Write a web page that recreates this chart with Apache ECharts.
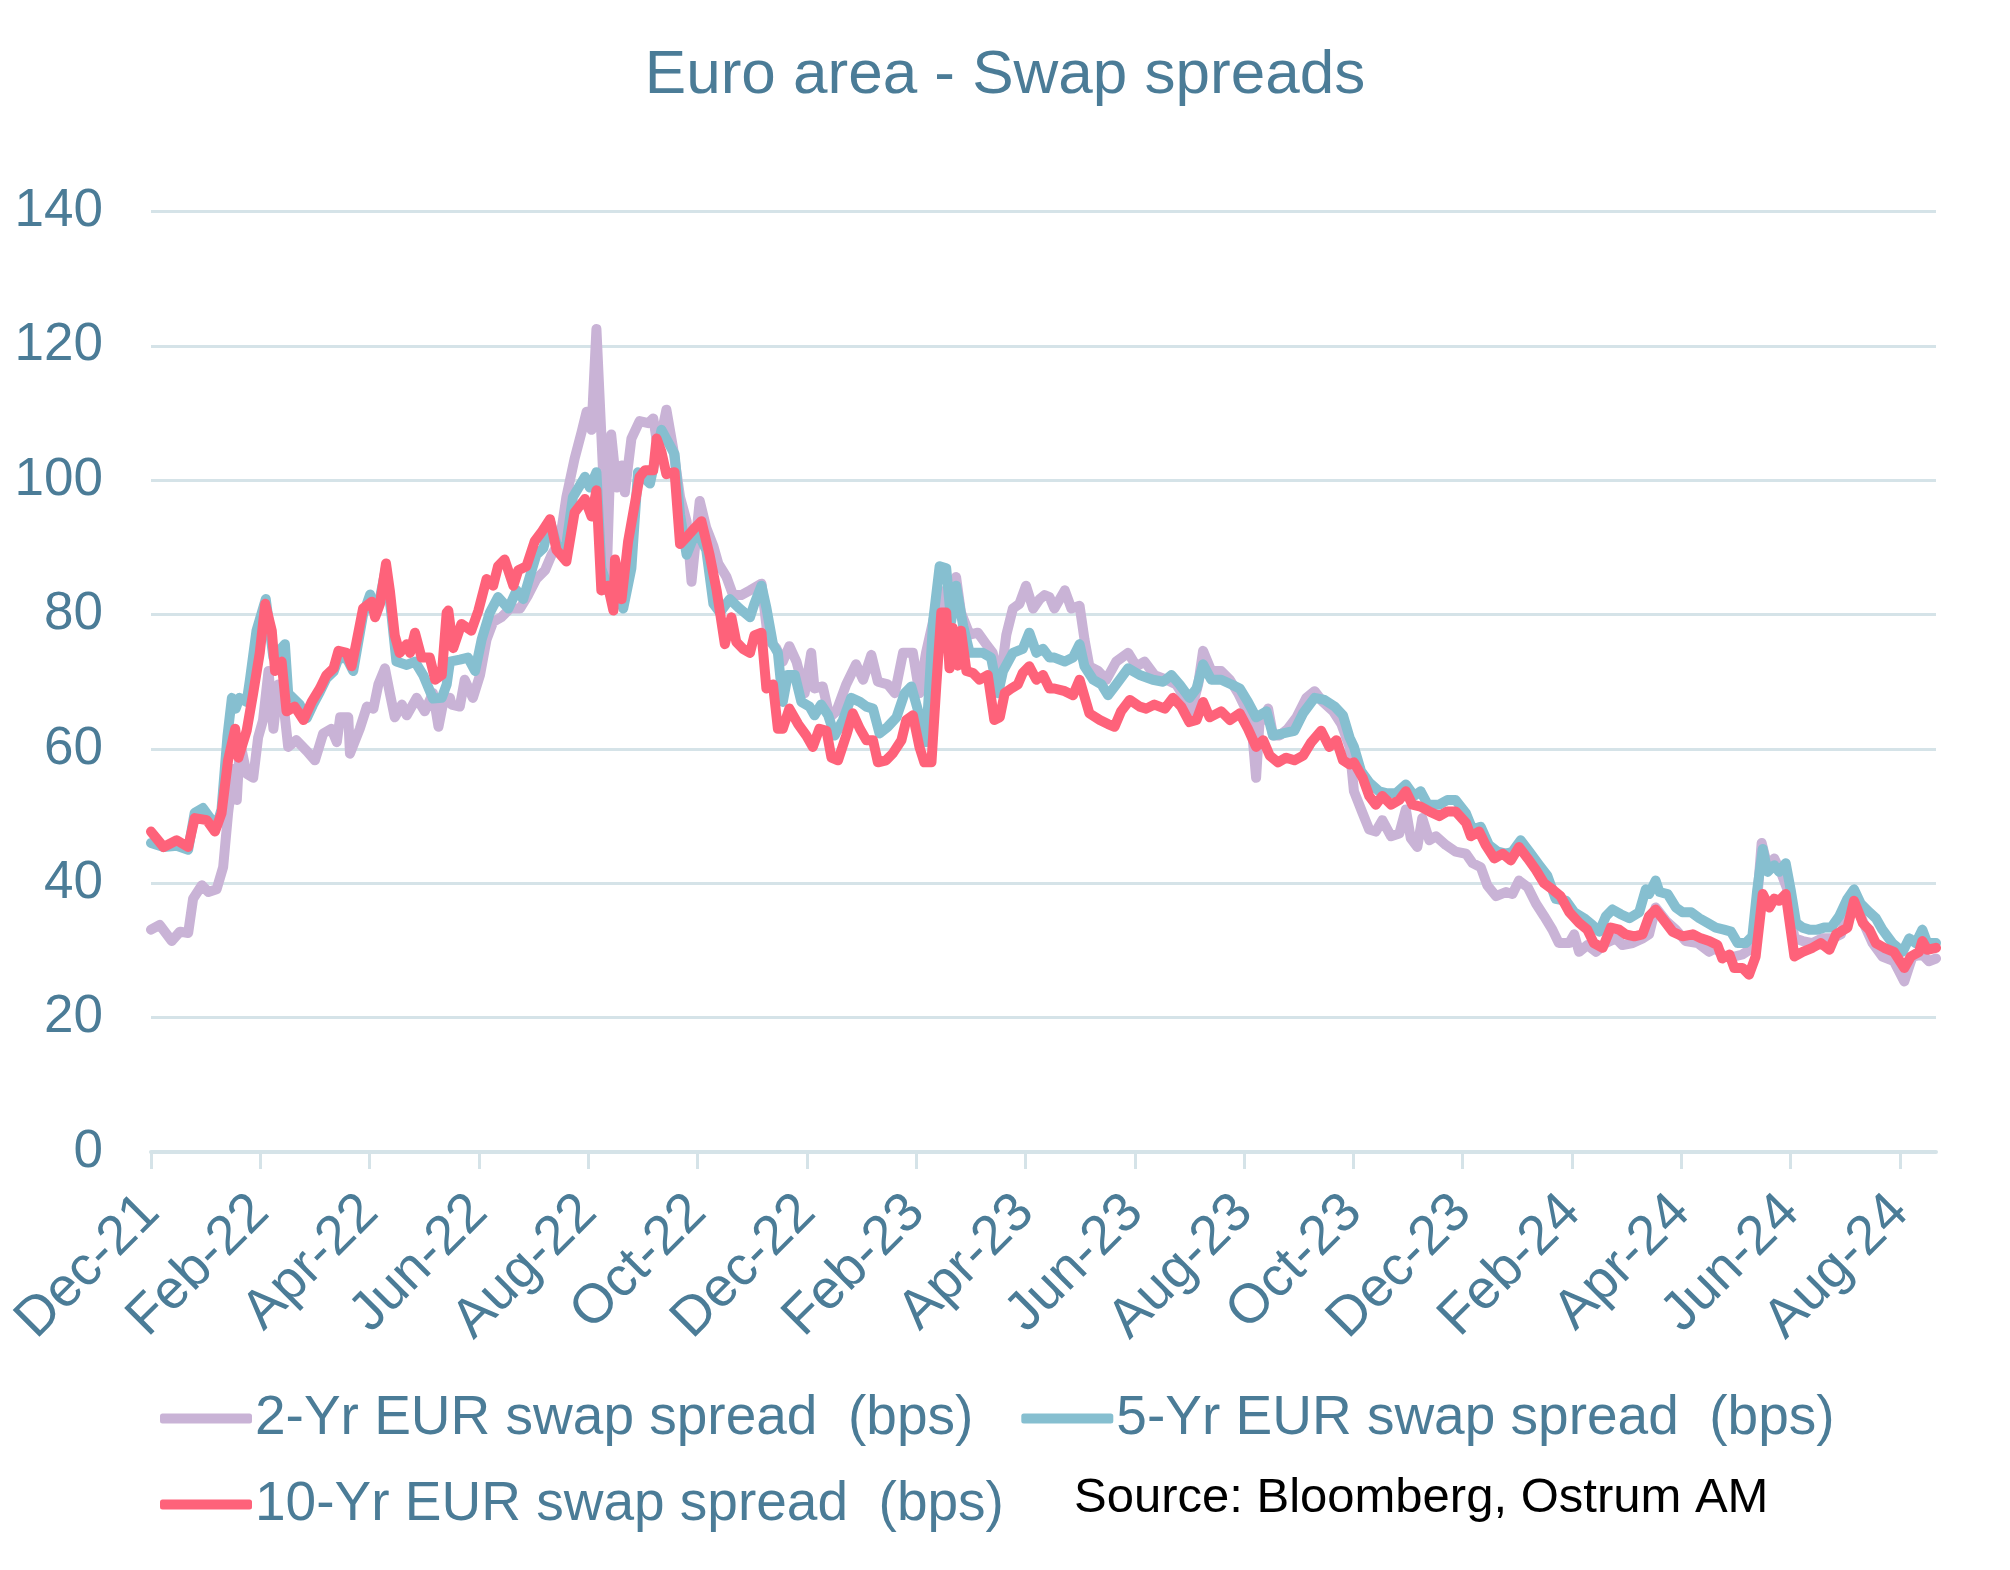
<!DOCTYPE html>
<html>
<head>
<meta charset="utf-8">
<script src="https://cdn.jsdelivr.net/npm/echarts@6/dist/echarts.min.js"></script>
<style>
html,body{margin:0;padding:0;background:#fff;}
#chart{width:2010px;height:1570px;}
</style>
</head>
<body>
<div id="chart"></div>
<script>
// x = months since Dec-21, y = spread in bps
const tickLabels = ['Dec-21','Feb-22','Apr-22','Jun-22','Aug-22','Oct-22','Dec-22','Feb-23','Apr-23','Jun-23','Aug-23','Oct-23','Dec-23','Feb-24','Apr-24','Jun-24','Aug-24'];
const seriesNames = ['2-Yr EUR swap spread  (bps)','5-Yr EUR swap spread  (bps)','10-Yr EUR swap spread  (bps)'];

const swap2y = [
[0,33.1],[0.16,33.8],[0.38,31.4],[0.53,32.8],[0.68,32.6],[0.77,37.7],[0.93,39.7],[1.05,38.7],[1.2,39.1],[1.32,42.4],[1.41,50.4],[1.51,57],[1.57,52.4],[1.63,61],[1.75,56.3],[1.87,55.7],[1.96,61.7],[2.05,64.3],[2.15,71.6],[2.24,63],[2.33,69.6],[2.42,67],[2.51,60.3],[2.66,61.3],[2.85,59.7],[3,58.3],[3.15,62.3],[3.3,63],[3.4,61],[3.46,64.7],[3.61,64.7],[3.64,59.3],[3.82,63],[3.95,66.3],[4.07,66],[4.16,69.6],[4.28,72],[4.37,68.3],[4.46,64.7],[4.59,66.6],[4.68,65],[4.86,67.6],[5.01,65.6],[5.16,68.3],[5.26,63.3],[5.35,67],[5.47,67.6],
[5.5,66.6],[5.65,66.3],[5.74,70.3],[5.89,67.6],[6.02,71],[6.14,76.3],[6.26,78.9],[6.41,79.6],[6.57,80.9],[6.75,80.9],[6.9,82.9],[7.05,85.3],[7.21,86.6],[7.33,88.9],[7.48,90.9],[7.6,97.5],[7.75,103.2],[7.88,107.2],[7.97,110.2],[8.06,107.5],[8.15,122.5],[8.27,101.5],[8.33,83.6],[8.42,106.8],[8.52,98.9],[8.61,102.2],[8.67,98.2],[8.79,106.2],[8.94,108.8],[9.1,108.5],[9.19,109.2],[9.28,104.5],[9.43,110.5],[9.55,104.9],[9.68,97.5],[9.8,93.9],[9.89,84.9],[10.04,96.9],[10.16,92.9],[10.29,90.2],[10.38,87.6],[10.53,85.6],[10.65,82.9],[10.8,82.9],[10.96,83.6],
[11.17,84.6],[11.29,76.3],[11.44,75],[11.56,73],[11.68,75.3],[11.81,73],[11.96,68.3],[12.08,74.3],[12.14,69],[12.29,69.3],[12.42,64.7],[12.54,65.6],[12.72,69.6],[12.9,72.6],[13.03,70.3],[13.18,74],[13.3,70],[13.48,69.6],[13.61,68.3],[13.76,74.3],[13.94,74.3],[14.06,68.3],[14.18,74.3],[14.31,79],[14.43,83.6],[14.55,80.9],[14.73,85.6],[14.82,80.3],[14.98,77],[15.13,77.3],[15.28,75.6],[15.4,74.3],[15.53,69.6],[15.65,77],[15.77,80.9],[15.89,81.6],[16.01,84.3],[16.14,80.9],[16.26,82.3],[16.35,82.9],[16.44,82.6],
[16.53,80.9],[16.72,83.6],[16.84,80.9],[16.99,81.3],[17.08,76.3],[17.17,72.3],[17.33,71.6],[17.48,70.3],[17.66,73],[17.88,74.3],[18.03,72.3],[18.18,73],[18.36,71],[18.58,70.3],[18.76,69.6],[18.91,67.6],[19.03,65.6],[19.16,69.6],[19.25,74.6],[19.4,71.6],[19.58,71.6],[19.74,70.3],[19.89,68.3],[20.01,66.3],[20.13,64.3],[20.22,55.7],[20.28,63.7],[20.44,66],[20.53,62],[20.65,62],[20.8,63],[20.96,64.7],[21.14,67.6],[21.29,68.6],[21.44,67],[21.63,65.6],[21.78,63.7],[21.93,60.3],
[22.01,53.7],[22.17,50.4],[22.29,48],[22.41,47.7],[22.53,49.4],[22.69,47],[22.84,47.4],[22.96,51],[23.05,46.7],[23.17,45.4],[23.26,49.7],[23.39,46.4],[23.51,47],[23.69,45.7],[23.87,44.7],[24.06,44.4],[24.18,43],[24.33,42.4],[24.45,39.7],[24.61,38.1],[24.79,38.7],[24.91,38.4],[25.03,40.4],[25.19,39.4],[25.34,37],[25.49,35.1],[25.64,33.1],[25.76,31.1],[25.95,31.1],[26.04,32.4],[26.13,29.8],[26.28,30.8],[26.44,29.8],[26.62,31.1],[26.8,31.8],[26.92,30.8],[27.11,31.1],[27.29,31.8],[27.41,32.4],
[27.53,36.4],[27.72,34.4],[27.9,33.1],[28.08,31.4],[28.3,31.1],[28.51,29.8],[28.63,30.4],[28.78,29.1],[28.97,29.1],[29.12,29.4],[29.3,30.4],[29.39,37.7],[29.47,46],[29.58,42.4],[29.7,43.7],[29.82,41.7],[29.94,39.1],[30.07,31.8],[30.22,31.4],[30.4,31.1],[30.58,31.8],[30.77,31.8],[30.92,32.4],[31.07,36.1],[31.19,37],[31.35,33.8],[31.5,31.1],[31.68,29.1],[31.89,28.4],[32.08,25.4],[32.23,29.1],[32.41,29.4],[32.53,28.4],[32.66,28.8]
];

const swap5y = [
[0,46],[0.23,45.4],[0.47,45.6],[0.68,45],[0.8,50.5],[0.95,51.2],[1.1,49.5],[1.2,48.5],[1.29,51],[1.4,62],[1.48,67.6],[1.55,66],[1.62,67.6],[1.75,67],[1.81,70.3],[1.93,77.6],[2.1,82.3],[2.24,73.6],[2.45,75.6],[2.51,68.3],[2.72,66.6],[2.85,64.6],[2.96,66.5],[3.09,68.5],[3.21,70.5],[3.34,71.5],[3.43,73.5],[3.58,73.5],[3.7,71.6],[3.88,80],[4.01,83],[4.1,80],[4.19,82.5],[4.3,87],[4.4,80],[4.49,73],[4.68,72.5],[4.83,73],[4.98,71],[5.16,67.5],[5.32,67.6],[5.41,69.6],
[5.47,73],[5.65,73.3],[5.8,73.6],[5.93,71.6],[6.05,76.3],[6.2,80.3],[6.35,82.6],[6.54,80.9],[6.69,83.6],[6.81,82.3],[6.93,85.6],[7.05,88.9],[7.18,89.9],[7.3,93.9],[7.45,89.6],[7.6,90.5],[7.72,97.5],[7.94,100.5],[8.03,98.9],[8.15,101.2],[8.24,86.9],[8.4,83],[8.52,84],[8.64,80.9],[8.79,86.9],[8.91,101.2],[9.13,99.5],[9.34,107.5],[9.58,103.9],[9.68,94.9],[9.8,88.9],[9.98,92.6],[10.16,89.6],[10.29,81.6],[10.41,80.3],[10.59,82.3],[10.77,80.9],[10.96,79.6],
[11.04,81.6],[11.17,84.3],[11.26,81],[11.38,75.6],[11.47,74.3],[11.56,67],[11.65,71],[11.78,71],[11.9,67],[12.05,66.3],[12.14,65],[12.26,66.6],[12.39,65],[12.51,62],[12.66,64.3],[12.81,67.6],[12.97,67],[13.09,66.3],[13.21,66],[13.33,62.3],[13.48,63.3],[13.64,64.7],[13.79,68.3],[13.91,69.3],[14.06,65],[14.18,61],[14.31,79],[14.43,87.2],[14.55,86.9],[14.64,79],[14.73,84.3],[14.86,78.3],[14.98,74.3],[15.1,74.3],[15.22,74.3],[15.37,73.6],[15.5,68.3],[15.59,71.6],[15.77,74.3],[15.95,74.9],[16.07,77.3],[16.2,74.3],[16.32,74.9],[16.44,73.6],
[16.53,73.6],[16.72,73],[16.87,73.6],[16.99,75.6],[17.08,72.3],[17.24,70.3],[17.39,69.6],[17.51,68],[17.66,69.6],[17.88,72],[18.09,71],[18.33,70.3],[18.52,70],[18.67,71],[18.82,69.6],[19,67.6],[19.13,69],[19.25,72.6],[19.4,70.3],[19.58,70.3],[19.77,69.6],[19.92,69],[20.07,67],[20.22,64.7],[20.41,65.6],[20.53,62],[20.71,62.3],[20.92,62.7],[21.08,65.3],[21.29,67.6],[21.47,67.3],[21.66,66.3],[21.81,65],[21.93,61.7],
[22.01,60.3],[22.14,56.7],[22.29,55],[22.47,53.7],[22.62,53.4],[22.78,53.4],[22.96,54.7],[23.11,53],[23.23,53.7],[23.36,51.7],[23.57,51.7],[23.72,52.4],[23.87,52.4],[24.06,50.4],[24.18,48],[24.33,48.4],[24.48,45.7],[24.64,44.7],[24.79,44.4],[24.91,44.7],[25.06,46.4],[25.22,44.7],[25.4,42.7],[25.55,41.1],[25.7,37.7],[25.89,37.4],[26.04,35.7],[26.22,34.8],[26.37,33.8],[26.5,32.8],[26.62,35.1],[26.74,36.1],[26.89,35.4],[27.05,34.8],[27.23,35.7],[27.35,39.1],[27.41,38.4],
[27.53,40.4],[27.6,38.7],[27.75,38.4],[27.9,36.4],[28.02,35.7],[28.18,35.7],[28.33,34.8],[28.48,34.1],[28.63,33.4],[28.78,33.1],[28.91,32.8],[29.03,31.1],[29.18,31.1],[29.3,32.1],[29.39,39.1],[29.49,45.1],[29.58,41.7],[29.7,42.7],[29.79,41.7],[29.91,43],[30,39.1],[30.1,34.1],[30.22,33.4],[30.34,33.1],[30.49,33.1],[30.61,33.4],[30.74,33.4],[30.89,35.1],[31.04,37.7],[31.16,39.1],[31.28,37],[31.44,35.7],[31.56,34.8],[31.68,33.1],[31.86,31.1],[32.05,29.8],[32.17,31.8],[32.29,31.1],[32.41,33.1],[32.5,31.1],[32.66,31.1]
];

const swap10y = [
[0,47.7],[0.23,45.4],[0.47,46.4],[0.68,45.4],[0.8,49.7],[1.02,49.4],[1.17,47.7],[1.29,50.4],[1.41,58.3],[1.54,63],[1.6,58.7],[1.75,62.7],[1.87,68.3],[1.99,74.3],[2.09,81.6],[2.21,77.6],[2.27,71.6],[2.39,73],[2.48,65.6],[2.63,66.3],[2.79,64.3],[2.94,67],[3.09,69],[3.21,71],[3.34,72],[3.43,74.6],[3.58,74.3],[3.67,72.3],[3.76,75.9],[3.88,80.9],[4.04,81.9],[4.1,79.6],[4.19,81.6],[4.3,87.6],[4.37,83.6],[4.46,76.9],[4.55,74.3],[4.68,75.6],[4.74,74.3],[4.83,77.3],[4.95,73.6],[5.1,73.6],[5.2,70.3],[5.32,71],[5.41,80.3],
[5.44,80.6],[5.53,75],[5.68,78.6],[5.86,77.6],[5.99,80.6],[6.14,85.3],[6.26,84.3],[6.35,87.2],[6.47,88.2],[6.63,84.3],[6.72,86.6],[6.87,87.2],[7.02,90.9],[7.14,92.2],[7.3,94.2],[7.42,89.6],[7.6,87.9],[7.75,95.2],[7.94,97.2],[8.06,94.6],[8.15,98.5],[8.24,83.6],[8.36,84.3],[8.46,80.6],[8.49,88.2],[8.61,82.3],[8.73,90.9],[8.94,100.5],[9.04,101.5],[9.19,101.5],[9.25,106.2],[9.34,104.2],[9.43,100.9],[9.58,101.2],[9.68,90.5],[9.83,91.8],[9.95,92.9],[10.07,93.9],[10.22,88.9],[10.35,83.6],[10.5,75.6],[10.62,79.6],[10.71,75.9],[10.83,74.9],[10.96,74.3],
[11.04,76.9],[11.17,77.3],[11.26,69],[11.38,69.6],[11.47,63],[11.56,63],[11.68,66],[11.84,63.7],[11.99,62],[12.11,60.3],[12.23,63],[12.36,62.7],[12.45,58.7],[12.57,58.3],[12.72,62],[12.84,65.3],[12.97,63],[13.09,61.3],[13.21,61.3],[13.3,58],[13.45,58.3],[13.57,59.3],[13.73,61.3],[13.82,64.3],[13.94,65],[14.06,60.3],[14.15,58],[14.28,58],[14.37,69.6],[14.46,80.3],[14.55,80.3],[14.61,72],[14.67,78],[14.76,72.4],[14.82,77.6],[14.92,71.6],[15.04,71.3],[15.16,70.3],[15.31,71],[15.43,64.3],[15.53,64.7],[15.62,68.3],[15.74,69],[15.86,69.6],[15.95,71.3],[16.07,72.3],[16.2,70.3],[16.32,71],[16.44,69],
[16.53,69],[16.72,68.6],[16.87,68],[16.99,70.3],[17.17,65.3],[17.36,64.3],[17.51,63.7],[17.63,63.3],[17.75,65.6],[17.91,67.3],[18.09,66.3],[18.21,66],[18.36,66.6],[18.55,66],[18.7,67.6],[18.85,66.3],[19,64],[19.13,64.3],[19.25,67],[19.37,64.7],[19.58,65.6],[19.74,64.3],[19.92,65.3],[20.07,63],[20.22,60.3],[20.35,61.3],[20.47,59],[20.62,58],[20.77,58.7],[20.92,58.3],[21.08,59],[21.23,61],[21.41,62.7],[21.56,60.3],[21.69,61.3],[21.81,58.3],[21.93,57.7],
[22.01,58],[22.17,55.7],[22.29,53],[22.41,51.7],[22.53,53],[22.69,51.7],[22.84,52.4],[22.96,53.7],[23.08,51.7],[23.23,51.4],[23.39,50.7],[23.57,50],[23.72,50.7],[23.87,50.7],[24.06,49],[24.15,47],[24.3,47.7],[24.42,45.7],[24.58,43.7],[24.73,44.4],[24.88,43.4],[25.03,45.4],[25.19,43.7],[25.34,42],[25.49,40],[25.64,39.1],[25.79,38.1],[25.95,35.7],[26.13,34.1],[26.28,33.1],[26.4,31.1],[26.56,30.4],[26.71,33.4],[26.86,33.1],[26.98,32.4],[27.14,32.1],[27.29,32.4],[27.41,35.1],
[27.53,36.1],[27.69,34.4],[27.84,32.8],[28.02,32.1],[28.21,32.4],[28.36,31.8],[28.51,31.4],[28.66,30.8],[28.75,28.8],[28.88,29.4],[28.97,27.4],[29.12,27.4],[29.24,26.4],[29.36,29.1],[29.49,38.4],[29.61,36.4],[29.7,37.7],[29.79,37.4],[29.91,38.4],[30.07,29.1],[30.22,29.8],[30.4,30.4],[30.55,31.1],[30.71,30.1],[30.83,32.4],[31.04,33.4],[31.16,37.4],[31.32,34.1],[31.44,33.1],[31.56,31.1],[31.71,30.4],[31.89,29.8],[32.08,27.4],[32.2,29.1],[32.35,29.8],[32.41,31.4],[32.5,30.1],[32.66,30.4]
];

const textColor = '#4b7c97';
const gridColor = '#d5e3e8';
const colors = ['#c9b3d6', '#86bfd0', '#fe627a'];
const font = 'Liberation Sans, Arial, sans-serif';

const chart = echarts.init(document.getElementById('chart'), null, {renderer: 'canvas'});
const lineSeries = [swap2y, swap5y, swap10y].map((d, i) => ({
  name: seriesNames[i],
  type: 'line',
  data: d,
  showSymbol: false,
  symbol: 'none',
  smooth: false,
  lineStyle: {color: colors[i], width: 10, join: 'round', cap: 'round'},
  itemStyle: {color: colors[i]},
  z: 2 + i
}));

chart.setOption({
  animation: false,
  backgroundColor: '#ffffff',
  title: {
    text: 'Euro area - Swap spreads',
    left: 'center',
    top: 40,
    textStyle: {color: textColor, fontSize: 62, fontWeight: 'normal', fontFamily: font}
  },
  grid: {left: 151, right: 74, top: 211.5, bottom: 418, containLabel: false},
  xAxis: {
    type: 'value',
    min: 0,
    max: 32.66,
    interval: 2,
    axisLine: {show: true, lineStyle: {color: gridColor, width: 4}},
    axisTick: {show: true, length: 17, lineStyle: {color: gridColor, width: 3}},
    splitLine: {show: false},
    axisLabel: {
      rotate: 45,
      margin: 52,
      color: textColor,
      fontSize: 55,
      fontFamily: font,
      showMaxLabel: false,
      formatter: v => tickLabels[Math.round(v / 2)] || ''
    }
  },
  yAxis: {
    type: 'value',
    min: 0,
    max: 140,
    interval: 20,
    axisLine: {show: false},
    axisTick: {show: false},
    splitLine: {show: true, lineStyle: {color: gridColor, width: 3}},
    axisLabel: {margin: 48, color: textColor, fontSize: 53, fontFamily: font}
  },
  legend: [
    {
      data: [seriesNames[0], seriesNames[1]],
      left: 155,
      top: 1386,
      itemWidth: 92,
      itemHeight: 10,
      itemGap: 48,
      icon: 'roundRect',
      textStyle: {color: textColor, fontSize: 55, fontFamily: font, padding: [0, 0, 0, -2]}
    },
    {
      data: [seriesNames[2]],
      left: 155,
      top: 1472,
      itemWidth: 92,
      itemHeight: 10,
      icon: 'roundRect',
      textStyle: {color: textColor, fontSize: 55, fontFamily: font, padding: [0, 0, 0, -2]}
    }
  ],
  graphic: [{
    type: 'text',
    left: 1074,
    top: 1474,
    style: {text: 'Source: Bloomberg, Ostrum AM', fill: '#000000', fontSize: 49, fontFamily: font}
  }],
  series: lineSeries
});
</script>
</body>
</html>
